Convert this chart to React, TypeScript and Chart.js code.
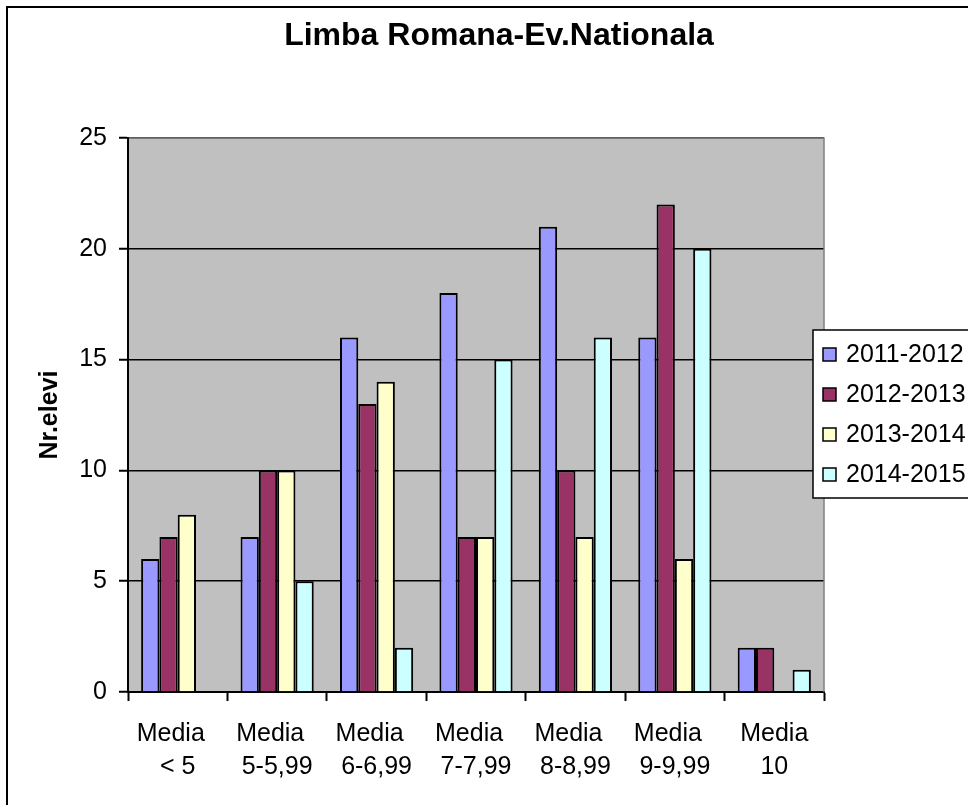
import { useEffect, useRef } from "react";
import { Chart, registerables } from "chart.js";

Chart.register(...registerables);

const categories: string[][] = [
  ["Media  ", "< 5"],
  ["Media  ", "5-5,99"],
  ["Media  ", "6-6,99"],
  ["Media  ", "7-7,99"],
  ["Media  ", "8-8,99"],
  ["Media  ", "9-9,99"],
  ["Media", "10"],
];
const seriesNames = ["2011-2012", "2012-2013", "2013-2014", "2014-2015"];
const values2011 = [6, 7, 16, 18, 21, 16, 2];
const values2012 = [7, 10, 13, 7, 10, 22, 2];
const values2013 = [8, 10, 14, 7, 7, 6, 0];
const values2014 = [0, 5, 2, 15, 16, 20, 1];
const yTicks = [0, 5, 10, 15, 20, 25];
const chartTitle = "Limba Romana-Ev.Nationala";
const yTitle = "Nr.elevi";

const seriesColors = ["#9999FF", "#993366", "#FFFFCC", "#CCFFFF"];
const FONT = "'Liberation Sans', Arial, Helvetica, sans-serif";

const decor = {
  id: "decor",
  beforeDraw(chart: any) {
    const { ctx, chartArea: a } = chart;
    ctx.save();
    ctx.fillStyle = "#FFFFFF";
    ctx.fillRect(0, 0, chart.width, chart.height);
    ctx.fillStyle = "#C0C0C0";
    ctx.fillRect(a.left, a.top, a.right - a.left, a.bottom - a.top);
    ctx.restore();
  },
  beforeDatasetsDraw(chart: any) {
    const { ctx, chartArea: a } = chart;
    ctx.save();
    ctx.strokeStyle = "#808080";
    ctx.lineWidth = 1.5;
    ctx.beginPath();
    ctx.moveTo(a.left + 1, a.top);
    ctx.lineTo(a.right, a.top);
    ctx.lineTo(a.right, a.bottom);
    ctx.stroke();
    ctx.restore();
  },
  afterDraw(chart: any) {
    const { ctx } = chart;
    ctx.save();
    // title
    ctx.fillStyle = "#000";
    ctx.font = `bold 32px ${FONT}`;
    ctx.textAlign = "center";
    ctx.textBaseline = "alphabetic";
    ctx.fillText(chartTitle, 491, 37);
    // legend
    const lx = 805;
    const ly = 322;
    ctx.fillStyle = "#FFFFFF";
    ctx.fillRect(lx, ly, 200, 168);
    ctx.strokeStyle = "#000";
    ctx.lineWidth = 1.5;
    ctx.strokeRect(lx, ly, 200, 168);
    ctx.font = `25px ${FONT}`;
    ctx.textAlign = "left";
    chart.data.datasets.forEach((ds: any, i: number) => {
      const y = ly + 18 + i * 40;
      ctx.fillStyle = ds.backgroundColor;
      ctx.fillRect(lx + 10, y, 13, 13);
      ctx.strokeStyle = "#000";
      ctx.lineWidth = 1.5;
      ctx.strokeRect(lx + 10, y, 13, 13);
      ctx.fillStyle = "#000";
      ctx.fillText(ds.label, lx + 33, y + 14);
    });
    ctx.restore();
  },
};

export default function App() {
  const ref = useRef<HTMLCanvasElement>(null);
  useEffect(() => {
    Chart.defaults.font.family = FONT;
    const seriesValues = [values2011, values2012, values2013, values2014];
    const chart = new Chart(ref.current as HTMLCanvasElement, {
      type: "bar",
      data: {
        labels: categories,
        datasets: seriesNames.map((name, i) => ({
          label: name,
          data: seriesValues[i],
          backgroundColor: seriesColors[i],
          borderColor: "#000000",
          borderWidth: 2,
          categoryPercentage: 0.736,
          barPercentage: 1,
        })),
      },
      options: {
        animation: false,
        responsive: true,
        maintainAspectRatio: false,
        layout: { padding: { top: 130, right: 144, left: 0, bottom: 0 } },
        plugins: {
          legend: { display: false },
          title: { display: false },
          tooltip: { enabled: false },
        },
        scales: {
          x: {
            grid: {
              display: true,
              drawOnChartArea: false,
              drawTicks: true,
              tickLength: 9,
              tickColor: "#000",
              tickWidth: 2,
              offset: true,
            },
            border: { display: true, color: "#000", width: 2 },
            ticks: {
              color: "#000",
              font: { size: 25, lineHeight: 1.32 },
              padding: 17,
              maxRotation: 0,
              minRotation: 0,
              autoSkip: false,
            },
            afterFit: (s: any) => {
              s.height = 113;
            },
          },
          y: {
            min: 0,
            max: 25,
            afterBuildTicks: (s: any) => {
              s.ticks = yTicks.map((v) => ({ value: v }));
            },
            grid: {
              color: "#000",
              lineWidth: 1.5,
              tickLength: 9,
              tickColor: "#000",
              tickWidth: 2,
            },
            border: { display: true, color: "#000", width: 2 },
            ticks: { color: "#000", font: { size: 25 }, padding: 12 },
            title: {
              display: true,
              text: yTitle,
              color: "#000",
              font: { size: 25, weight: "bold" },
              padding: { top: 27, bottom: 0 },
            },
            afterFit: (s: any) => {
              s.width = 120;
            },
          },
        },
      },
      plugins: [decor],
    } as any);
    return () => chart.destroy();
  }, []);
  return (
    <div
      style={{
        position: "absolute",
        left: 6,
        top: 6,
        width: 962,
        height: 799,
        boxSizing: "border-box",
        borderLeft: "2px solid #000",
        borderTop: "2px solid #000",
        background: "#fff",
        overflow: "hidden",
      }}
    >
      <div style={{ position: "relative", width: 960, height: 797 }}>
        <canvas ref={ref} />
      </div>
    </div>
  );
}
